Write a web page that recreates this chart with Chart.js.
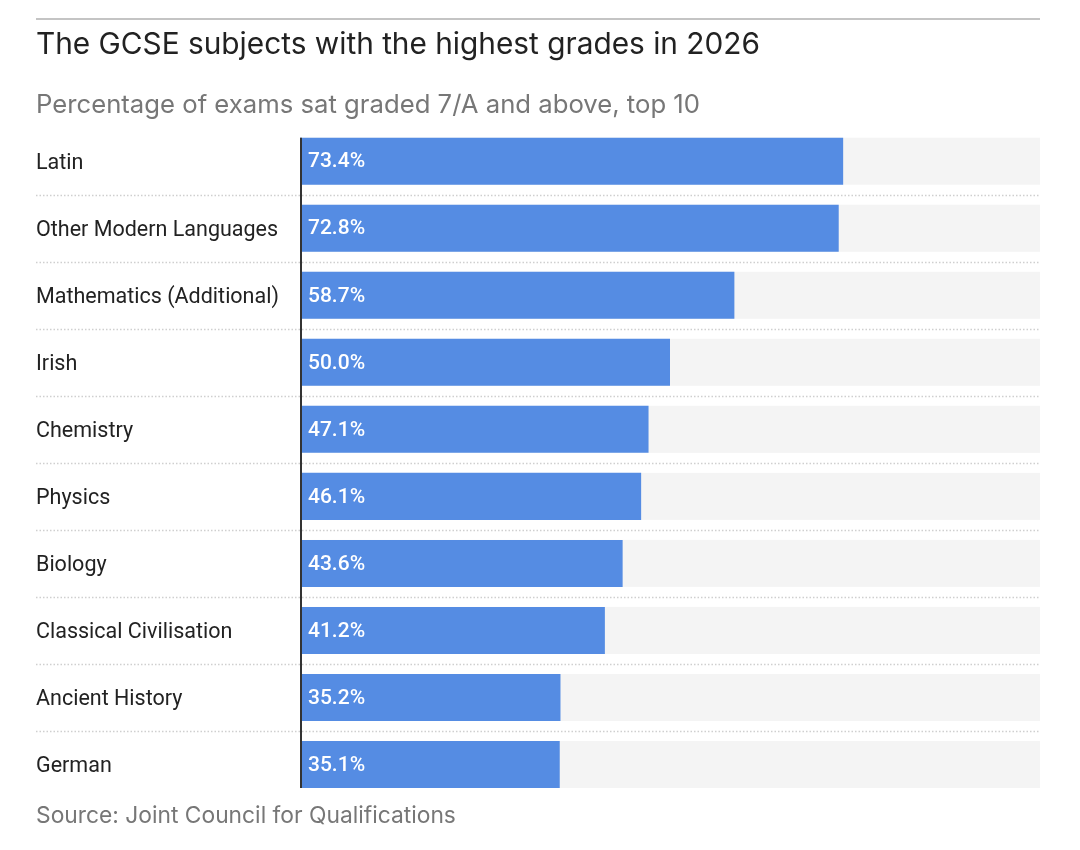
<!DOCTYPE html>
<html>
<head>
<meta charset="utf-8">
<title>GCSE subjects with the highest grades</title>
<script src="https://cdn.jsdelivr.net/npm/chart.js@4"></script>
<style>
  html, body { margin: 0; padding: 0; background: #fff; }
  #wrap { position: relative; width: 1080px; height: 850px; }
</style>
</head>
<body>
<div id="wrap"><canvas id="chart"></canvas></div>
<script>
// ----- data -----
const subjects = [
  "Latin", "Other Modern Languages", "Mathematics (Additional)", "Irish",
  "Chemistry", "Physics", "Biology", "Classical Civilisation",
  "Ancient History", "German"
];
const topGradeShare = [73.4, 72.8, 58.7, 50.0, 47.1, 46.1, 43.6, 41.2, 35.2, 35.1];
const scaleMax = 100;

const titleText = "The GCSE subjects with the highest grades in 2026";
const subtitleText = "Percentage of exams sat graded 7/A and above, top 10";
const sourceText = "Source: Joint Council for Qualifications";

const BLUE = "#558ce3";
const TRACK = "#f4f4f4";
const LEFT = 36;

// light grey track behind every bar, out to the end of the scale
const trackPlugin = {
  id: "tracks",
  beforeDatasetsDraw(chart) {
    const { ctx } = chart;
    const xs = chart.scales.x;
    const end = xs.getPixelForValue(scaleMax);
    ctx.save();
    ctx.fillStyle = TRACK;
    for (const bar of chart.getDatasetMeta(0).data) {
      ctx.fillRect(xs.left, bar.y - bar.height / 2, end - xs.left, bar.height);
    }
    ctx.restore();
  }
};

// dotted rules between rows, across labels too
const separatorPlugin = {
  id: "separators",
  beforeDatasetsDraw(chart) {
    const { ctx, chartArea } = chart;
    const bars = chart.getDatasetMeta(0).data;
    ctx.save();
    ctx.strokeStyle = "#cfcfcf";
    ctx.lineWidth = 1.5;
    ctx.setLineDash([1.5, 2]);
    for (let i = 0; i < bars.length - 1; i++) {
      const y = Math.round((bars[i].y + bars[i + 1].y) / 2) + 0.5;
      ctx.beginPath();
      ctx.moveTo(LEFT, y);
      ctx.lineTo(chartArea.right, y);
      ctx.stroke();
    }
    ctx.restore();
  }
};

// value labels inside bars + the dark baseline
const labelPlugin = {
  id: "valueLabels",
  afterDatasetsDraw(chart) {
    const { ctx } = chart;
    const bars = chart.getDatasetMeta(0).data;
    const xs = chart.scales.x;
    ctx.save();
    ctx.fillStyle = "#fff";
    ctx.font = "500 21px Roboto";
    ctx.textAlign = "left";
    ctx.textBaseline = "middle";
    bars.forEach((bar, i) => {
      ctx.fillText(topGradeShare[i].toFixed(1) + "%", bar.base + 8, bar.y + 1);
    });
    const first = bars[0], last = bars[bars.length - 1];
    ctx.strokeStyle = "#333";
    ctx.lineWidth = 2;
    ctx.beginPath();
    ctx.moveTo(xs.left + 1, first.y - first.height / 2);
    ctx.lineTo(xs.left + 1, last.y + last.height / 2);
    ctx.stroke();
    ctx.restore();
  }
};

// top rule and source line
const framePlugin = {
  id: "frame",
  afterDraw(chart) {
    const { ctx, chartArea } = chart;
    ctx.save();
    ctx.strokeStyle = "#c4c4c4";
    ctx.lineWidth = 2;
    ctx.beginPath();
    ctx.moveTo(LEFT, 19);
    ctx.lineTo(chartArea.right, 19);
    ctx.stroke();
    ctx.fillStyle = "#777";
    ctx.font = "22.8px Inter";
    ctx.textAlign = "left";
    ctx.textBaseline = "middle";
    ctx.fillText(sourceText, LEFT, 816);
    ctx.restore();
  }
};

function draw() {
  new Chart(document.getElementById("chart"), {
    type: "bar",
    data: {
      labels: subjects,
      datasets: [{
        data: topGradeShare,
        backgroundColor: BLUE,
        borderWidth: 0,
        categoryPercentage: 1,
        barPercentage: 47 / 67
      }]
    },
    options: {
      indexAxis: "y",
      responsive: true,
      maintainAspectRatio: false,
      animation: false,
      layout: { padding: { top: 10, left: LEFT, right: 40, bottom: 52 } },
      plugins: {
        legend: { display: false },
        tooltip: { enabled: false },
        title: {
          display: true,
          text: titleText,
          align: "start",
          color: "#222",
          font: { family: "Inter", size: 29.8, weight: "400", lineHeight: 1.2 },
          padding: { top: 17, bottom: 14 }
        },
        subtitle: {
          display: true,
          text: subtitleText,
          align: "start",
          color: "#777",
          font: { family: "Inter", size: 25.7, weight: "400", lineHeight: 1.2 },
          padding: { top: 13.5, bottom: 6.6 }
        }
      },
      scales: {
        x: { display: false, min: 0, max: scaleMax },
        y: {
          grid: { display: false },
          border: { display: false },
          afterFit: s => { s.width = 300 - LEFT; },
          ticks: {
            crossAlign: "far",
            labelOffset: 2,
            color: "#222",
            font: { family: "Roboto", size: 21.5 }
          }
        }
      }
    },
    plugins: [trackPlugin, separatorPlugin, labelPlugin, framePlugin]
  });
}

// make sure the installed faces are ready before the canvas paints
Promise.all([
  document.fonts.load("30px Inter"),
  document.fonts.load("25px Inter"),
  document.fonts.load("22px Roboto"),
  document.fonts.load("500 21px Roboto")
]).then(draw, draw);
</script>
</body>
</html>
